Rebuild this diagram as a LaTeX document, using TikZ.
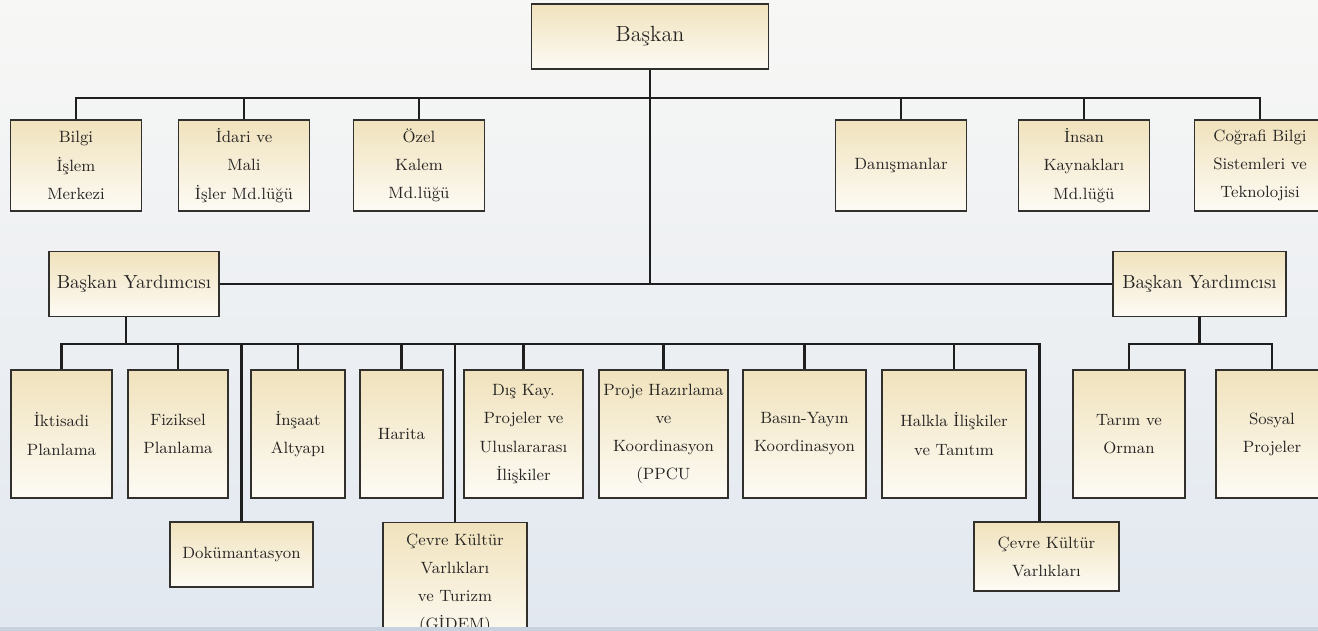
\documentclass[tikz,border=0pt]{standalone}
\usepackage{fontspec}
\definecolor{boxtan}{RGB}{240,226,188}
\definecolor{boxwhite}{RGB}{253,251,245}
\definecolor{boxline}{RGB}{50,48,44}
\definecolor{linecol}{RGB}{30,30,30}
\definecolor{textcol}{RGB}{40,38,36}
\definecolor{bgtop}{RGB}{247,247,245}
\definecolor{bgmid}{RGB}{239,241,243}
\definecolor{bgbot}{RGB}{226,232,240}
\definecolor{bgstrip}{RGB}{200,210,222}
\tikzset{
  unit/.style={draw=boxline, line width=0.7pt, top color=boxtan, bottom color=boxwhite, text=textcol, inner sep=2pt, align=center, font=\fontsize{9.3}{16}\selectfont},
  upper/.style={unit, minimum width=2.62cm, minimum height=1.82cm},
  deputy/.style={unit, minimum height=1.3cm, font=\fontsize{10.8}{12}\selectfont},
  dept/.style={unit, minimum height=2.56cm},
  link/.style={draw=linecol, line width=1.3pt}
}
\begin{document}
\begin{tikzpicture}[x=0.02cm, y=-0.02cm]
   \useasboundingbox (0,0) rectangle (1318,631);
   \clip (0,0) rectangle (1318,631);
   \fill[top color=bgtop, middle color=bgmid, bottom color=bgbot] (0,0) rectangle (1318,631);

   \node[unit, minimum width=4.74cm, minimum height=1.3cm, font=\fontsize{12.5}{14}\selectfont] (baskan) at (650,36.5) {Başkan};

   \node[upper] (bilgi) at (  76,165.5) {Bilgi\\İşlem\\Merkezi};
   \node[upper] (idari) at ( 244,165.5) {İdari ve\\Mali\\İşler Md.lüğü};
   \node[upper] (ozel)  at ( 419,165.5) {Özel\\Kalem\\Md.lüğü};
   \node[upper] (danis) at ( 901,165.5) {Danışmanlar};
   \node[upper] (insan) at (1084,165.5) {İnsan\\Kaynakları\\Md.lüğü};
   \node[upper] (cbs)   at (1260,165.5) {Coğrafi Bilgi\\Sistemleri ve\\Teknolojisi};

   \node[deputy, minimum width=3.4cm]  (vpl) at ( 134,284) {Başkan Yardımcısı};
   \node[deputy, minimum width=3.46cm] (vpr) at (1199.5,284) {Başkan Yardımcısı};

   \node[dept, minimum width=2.02cm] (iktisadi) at (  61.5,434) {İktisadi\\Planlama};
   \node[dept, minimum width=2cm]    (fiziksel) at ( 178,434) {Fiziksel\\Planlama};
   \node[dept, minimum width=1.88cm] (insaat)   at ( 298,434) {İnşaat\\Altyapı};
   \node[dept, minimum width=1.66cm] (harita)   at ( 401.5,434) {Harita};
   \node[dept, minimum width=2.38cm] (diskay)   at ( 523.5,434) {Dış Kay.\\Projeler ve\\Uluslararası\\İlişkiler};
   \node[dept, minimum width=2.58cm] (proje)    at ( 663.5,434) {Proje Hazırlama\\ve\\Koordinasyon\\(PPCU};
   \node[dept, minimum width=2.46cm] (basin)    at ( 804.5,434) {Basın-Yayın\\Koordinasyon};
   \node[dept, minimum width=2.88cm] (halkla)   at ( 954,434) {Halkla İlişkiler\\ve Tanıtım};
   \node[dept, minimum width=2.24cm] (tarim)    at (1129,434) {Tarım ve\\Orman};
   \node[dept, minimum width=2.24cm] (sosyal)   at (1272,434) {Sosyal\\Projeler};

   \node[unit, minimum width=2.86cm, minimum height=1.3cm]  (dok)   at (241.5,554.5) {Dokümantasyon};
   \node[unit, minimum width=2.88cm, minimum height=2.46cm, anchor=north] (gidem) at (455,522) {Çevre Kültür\\Varlıkları\\ve Turizm\\(GİDEM)};
   \node[unit, minimum width=2.9cm, minimum height=1.38cm]  (ckv)   at (1046.5,556.5) {Çevre Kültür\\Varlıkları};

   \coordinate (topbus) at (0,98);
   \coordinate (lbus) at (0,344);
   \coordinate (ckvtop) at ([xshift=-0.14cm]ckv.north);
   \coordinate (vpldrop) at ([xshift=-0.16cm]vpl.south);

   \draw[link] (baskan.south) -- (baskan.south |- vpl.east);
   \draw[link] (bilgi.north) |- (cbs.north |- topbus) -- (cbs.north);
   \foreach \n in {idari,ozel,danis,insan}
     \draw[link] (\n.north) -- (\n.north |- topbus);
   \draw[link] (vpl.east) -- (vpr.west);

   \draw[link] (vpldrop) -- (vpldrop |- lbus);
   \draw[link] (iktisadi.north) |- (ckvtop |- lbus) -- (ckvtop);
   \foreach \n in {fiziksel,insaat,harita,diskay,proje,basin,halkla,dok,gidem}
     \draw[link] (\n.north) -- (\n.north |- lbus);

   \draw[link] (vpr.south) -- (vpr.south |- lbus);
   \draw[link] (tarim.north) |- (sosyal.north |- lbus) -- (sosyal.north);

   \fill[bgstrip] (0,627) rectangle (1318,631);
\end{tikzpicture}
\end{document}
